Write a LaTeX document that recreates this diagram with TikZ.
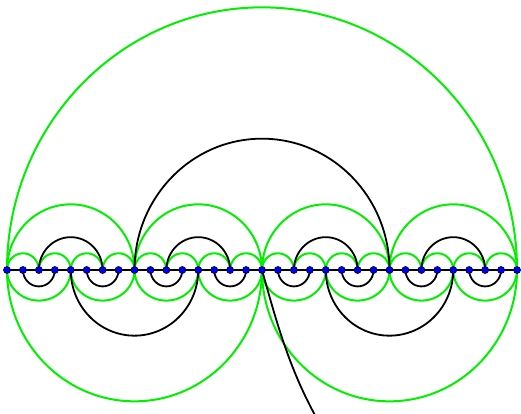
\documentclass[tikz,border=0pt]{standalone}
\usetikzlibrary{calc}
\begin{document}
\begin{tikzpicture}[x=1pt,y=1pt,
  greenarc/.style={draw={rgb,255:red,0;green,240;blue,0},line width=2pt},
  blackarc/.style={draw=black,line width=1.8pt},
  axisline/.style={draw=black,line width=2.6pt},
  dotnode/.style={circle,fill={rgb,255:red,0;green,0;blue,235},draw={rgb,255:red,0;green,0;blue,90},line width=0.7pt,inner sep=0pt,minimum width=6.2pt,minimum height=7pt}]
\useasboundingbox (0,0) rectangle (521,413);
\clip (0,0) rectangle (521,413);
\foreach \i in {0,...,32} \coordinate (p\i) at ({7+15.9375*\i},143);
\coordinate (tailend) at (316,-4);
% green arcs
\foreach \k in {0,...,15} {
  \pgfmathtruncatemacro{\a}{2*\k}
  \def\r{15.9375}
  \draw[greenarc] (p\a) arc[start angle=180,end angle=0,x radius=\r pt,y radius=1.05*\r pt];
}
\foreach \k in {0,...,7} {
  \pgfmathtruncatemacro{\a}{4*\k}
  \def\r{31.875}
  \draw[greenarc] (p\a) arc[start angle=180,end angle=360,x radius=\r pt,y radius=0.96*\r pt];
}
\foreach \k in {0,...,3} {
  \pgfmathtruncatemacro{\a}{8*\k}
  \def\r{63.75}
  \draw[greenarc] (p\a) arc[start angle=180,end angle=0,x radius=\r pt,y radius=1.03*\r pt];
}
\foreach \k in {0,1} {
  \pgfmathtruncatemacro{\a}{16*\k}
  \def\r{127.5}
  \draw[greenarc] (p\a) arc[start angle=180,end angle=360,x radius=\r pt,y radius=1.03*\r pt];
}
\draw[greenarc] (p0) arc[start angle=180,end angle=0,x radius=255pt,y radius=1.03*255pt];
% black arcs
\foreach \k in {0,...,3} {
  \pgfmathtruncatemacro{\a}{8*\k+1}
  \pgfmathtruncatemacro{\b}{8*\k+2}
  \pgfmathtruncatemacro{\c}{8*\k+5}
  \draw[blackarc] (p\a) arc[start angle=180,end angle=360,x radius=15.9375pt,y radius=1.03*15.9375pt];
  \draw[blackarc] (p\b) arc[start angle=180,end angle=0,x radius=31.875pt,y radius=1.03*31.875pt];
  \draw[blackarc] (p\c) arc[start angle=180,end angle=360,x radius=15.9375pt,y radius=1.03*15.9375pt];
}
\draw[blackarc] (p4) arc[start angle=180,end angle=360,x radius=63.75pt,y radius=1.03*63.75pt];
\draw[blackarc] (p20) arc[start angle=180,end angle=360,x radius=63.75pt,y radius=1.03*63.75pt];
\draw[blackarc] (p8) arc[start angle=180,end angle=0,x radius=127.5pt,y radius=1.03*127.5pt];
\draw[blackarc] (p16) .. controls +(14,-50) and +(-27.5,50) .. (tailend);
% axis and dots
\draw[axisline] (p0) -- (p32);
\foreach \i in {0,...,32} \node[dotnode] (d\i) at (p\i) {};
\end{tikzpicture}
\end{document}
